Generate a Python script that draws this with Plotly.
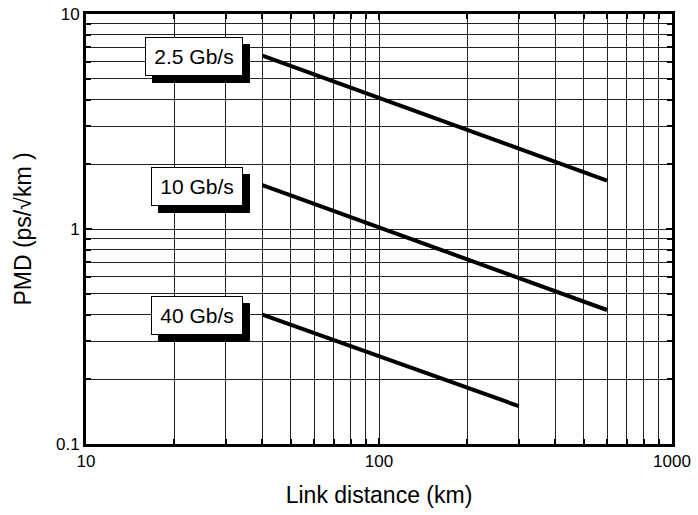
import math
import plotly.graph_objects as go

# Data
labels = ["2.5 Gb/s", "10 Gb/s", "40 Gb/s"]
dist_start = [40, 40, 40]
dist_end = [600, 600, 300]
pmd_start = [6.4, 1.6, 0.4]
pmd_end = [1.68, 0.42, 0.15]
box_widths = [88, 82, 82]

x_ticks = [10, 100, 1000]
x_ticktext = ["10", "100", "1000"]
y_ticks = [0.1, 1, 10]
y_ticktext = ["0.1", "1", "10"]
x_minor = [m * d for d in (10, 100) for m in range(2, 10)]
y_minor = [m * d for d in (0.1, 1) for m in range(2, 10)]

FONT = "Liberation Sans, Arial, sans-serif"

fig = go.Figure()
for i, lab in enumerate(labels):
    fig.add_trace(go.Scatter(
        x=[dist_start[i], dist_end[i]], y=[pmd_start[i], pmd_end[i]],
        mode="lines", line=dict(color="black", width=4),
        showlegend=False, hoverinfo="skip"))
    ax = math.log10(dist_start[i])
    ay = math.log10(pmd_start[i])
    # shadow box
    fig.add_annotation(x=ax, y=ay, xref="x", yref="y",
                       text=" ", showarrow=False, xanchor="right", yanchor="middle",
                       xshift=-19 + 7, yshift=-1 - 7, width=box_widths[i], height=29,
                       bgcolor="black", bordercolor="black", borderwidth=1, borderpad=4,
                       font=dict(family=FONT, size=21, color="black"))
    fig.add_annotation(x=ax, y=ay, xref="x", yref="y",
                       text=lab, showarrow=False, xanchor="right", yanchor="middle",
                       xshift=-19, yshift=-1, width=box_widths[i], height=29,
                       bgcolor="white", bordercolor="black", borderwidth=1, borderpad=4,
                       font=dict(family=FONT, size=21, color="black"))

def axis_style(minor_vals):
    return dict(
        type="log", showline=True, linecolor="black", linewidth=3, mirror="allticks",
        ticks="inside", ticklen=6, tickwidth=2, tickcolor="black",
        showgrid=True, gridcolor="#222", gridwidth=1,
        minor=dict(tickmode="array", tickvals=minor_vals, showgrid=True,
                   gridcolor="#222", gridwidth=1, ticks="inside",
                   ticklen=5, tickwidth=2, tickcolor="black"),
        tickfont=dict(family=FONT, size=17, color="black"),
        zeroline=False, automargin=False,
    )

fig.update_xaxes(**axis_style(x_minor), range=[1, 3], tickmode="array",
                 tickvals=x_ticks, ticktext=x_ticktext,
                 title=dict(text="Link distance (km)", font=dict(family=FONT, size=23, color="black"),
                            standoff=17))
fig.update_yaxes(**axis_style(y_minor), range=[-1, 1], tickmode="array",
                 tickvals=y_ticks, ticktext=y_ticktext,
                 title=dict(text="PMD (ps/√km )", font=dict(family=FONT, size=23, color="black"),
                            standoff=18))

fig.update_layout(
    width=698, height=515,
    margin=dict(l=86, r=26, t=14, b=71),
    paper_bgcolor="white", plot_bgcolor="white",
    font=dict(family=FONT, color="black"),
)

fig.write_html("out.html")
